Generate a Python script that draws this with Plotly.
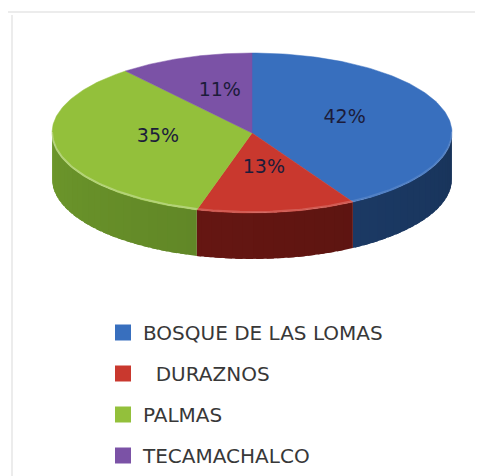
import numpy as np
import plotly.graph_objects as go

# ---------------- data ----------------
categories = ["BOSQUE DE LAS LOMAS", "DURAZNOS", "PALMAS", "TECAMACHALCO"]
values = [42, 13, 35, 11]
legend_labels = ["BOSQUE DE LAS LOMAS", "\u00a0\u00a0DURAZNOS", "PALMAS", "TECAMACHALCO"]

# ---------------- style ----------------
top_colors = ["#386fbe", "#c9382e", "#93c03b", "#7b52a6"]
side_base = [(29, 61, 106), (99, 22, 18), (95, 132, 38), (78, 52, 112)]
rim_colors = ["rgba(255,255,255,0.12)", "rgba(255,255,255,0.18)",
              "rgba(255,255,255,0.30)", "rgba(255,255,255,0.2)"]
W, H = 483, 476
OFF = 8  # page body margin of the html page
CX, CY, RX, RY, DEPTH = 252, 133, 200, 80, 46


def arc(a0, a1, dy=0.0, n=60):
    th = np.radians(np.linspace(a0, a1, n))
    return CX + RX * np.sin(th), CY - RY * np.cos(th) + dy


def shade(rgb, theta):
    f = 0.85 + 0.3 * (theta - 90.0) / 180.0
    r, g, b = (min(255, int(c * f)) for c in rgb)
    return f"rgb({r},{g},{b})"


total = float(sum(values))
bounds = np.concatenate([[0.0], np.cumsum(values) / total * 360.0])

fig = go.Figure()

# side walls (visible front half: 90..270 degrees), shaded in overlapping strips
STEP = 3.0
for i, cat in enumerate(categories):
    a0, a1 = bounds[i], bounds[i + 1]
    s, e = max(a0, 90.0), min(a1, 270.0)
    if e <= s:
        continue
    edges = np.append(np.arange(s, e, STEP), e)
    for k in range(len(edges) - 1):
        p, q = edges[k], edges[k + 1]
        qe = min(q + STEP * 0.7, e)  # overlap into the next strip to hide seams
        xt, yt = arc(p, qe, n=8)
        xb, yb = arc(qe, p, DEPTH, n=8)
        col = shade(side_base[i], (p + q) / 2)
        fig.add_trace(go.Scatter(
            x=np.concatenate([xt, xb, xt[:1]]), y=np.concatenate([yt, yb, yt[:1]]),
            mode="lines", fill="toself", fillcolor=col,
            line=dict(width=0),
            hoverinfo="skip", showlegend=False))

# top faces
for i, cat in enumerate(categories):
    a0, a1 = bounds[i], bounds[i + 1]
    xa, ya = arc(a0, a1, n=120)
    fig.add_trace(go.Scatter(
        x=np.concatenate([[CX], xa, [CX]]), y=np.concatenate([[CY], ya, [CY]]),
        mode="lines", fill="toself", fillcolor=top_colors[i],
        line=dict(color=top_colors[i], width=0.5),
        name=cat, hoverinfo="name", showlegend=False))

# light rim along the front edge of the top face
for i, cat in enumerate(categories):
    a0, a1 = bounds[i], bounds[i + 1]
    s, e = max(a0, 90.0), min(a1, 270.0)
    if e <= s:
        continue
    xr, yr = arc(s, e, -1.0, n=60)
    fig.add_trace(go.Scatter(
        x=xr, y=yr, mode="lines", line=dict(color=rim_colors[i], width=2),
        hoverinfo="skip", showlegend=False))

# percentage labels
mids = (bounds[:-1] + bounds[1:]) / 2
lx = CX + 0.48 * RX * np.sin(np.radians(mids))
ly = CY - 0.5 * RY * np.cos(np.radians(mids)) - 4
fig.add_trace(go.Scatter(
    x=lx, y=ly, mode="text", text=[f"{v}%" for v in values],
    textfont=dict(family="DejaVu Sans", size=19, color="#1c1c3a"),
    hoverinfo="skip", showlegend=False))

# legend entries
for i, cat in enumerate(categories):
    fig.add_trace(go.Scatter(
        x=[None], y=[None], mode="markers", name=legend_labels[i],
        legendgroup=cat,
        marker=dict(symbol="square", size=16, color=top_colors[i]),
        showlegend=True))

PW, PH = W - OFF, H - OFF
fig.update_layout(
    width=PW, height=PH,
    margin=dict(l=0, r=0, t=0, b=0),
    paper_bgcolor="white", plot_bgcolor="white",
    xaxis=dict(range=[OFF, W], visible=False, fixedrange=True),
    yaxis=dict(range=[H, OFF], visible=False, fixedrange=True),
    showlegend=True,
    legend=dict(
        x=(103 - OFF) / PW, y=1 - (313 - OFF) / PH, xanchor="left", yanchor="top",
        font=dict(family="DejaVu Sans", size=20, color="#383838"),
        tracegroupgap=12, itemwidth=30, bgcolor="rgba(0,0,0,0)"),
    shapes=[
        dict(type="line", xref="x", yref="y", x0=8, x1=W, y0=12, y1=12,
             line=dict(color="#e6e6e6", width=1.5)),
        dict(type="line", xref="x", yref="y", x0=12, x1=12, y0=15, y1=H,
             line=dict(color="#e6e6e6", width=1.5)),
    ],
)

fig.write_html("out.html")
